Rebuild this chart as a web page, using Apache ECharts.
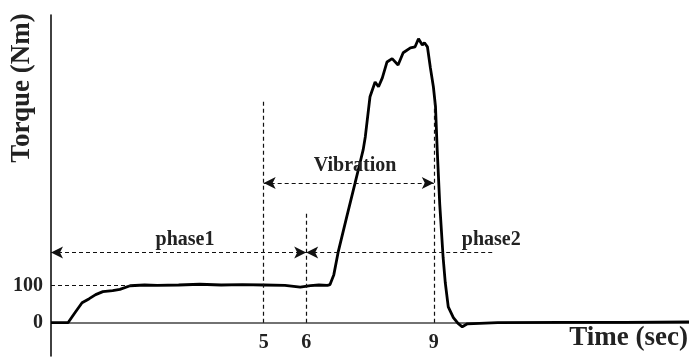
<!DOCTYPE html>
<html>
<head>
<meta charset="utf-8">
<script src="https://cdn.jsdelivr.net/npm/echarts@6/dist/echarts.min.js"></script>
<style>html,body{margin:0;padding:0;background:#fff;}#c{width:689px;height:358px;}</style>
</head>
<body>
<div id="c"></div>
<script>
// ---- data ----
const time = [0, 0.4, 0.55, 0.73, 0.9, 1.05, 1.22, 1.45, 1.62, 1.86, 2.2, 2.5, 3.0, 3.5, 4.0, 4.5, 5.0, 5.5, 5.86, 6.1, 6.3, 6.5, 6.56, 6.65, 6.75, 6.95, 7.15, 7.25, 7.34, 7.39, 7.5, 7.62, 7.7, 7.79, 7.9, 8.02, 8.16, 8.28, 8.45, 8.56, 8.64, 8.73, 8.78, 8.85, 8.92, 8.99, 9.04, 9.08, 9.14, 9.22, 9.27, 9.34, 9.46, 9.57, 9.67, 9.79, 10.5, 12, 13.5, 15];
const torque = [0, 0, 25, 54, 65, 76, 84, 87, 90, 100, 102, 101, 102, 104, 102, 103, 102, 101, 96, 100, 102, 101, 103, 130, 190, 285, 378, 425, 468, 503, 611, 651, 638, 662, 705, 714, 697, 730, 743, 746, 768, 751, 757, 746, 689, 638, 584, 468, 320, 175, 108, 43, 14, -2, -11, -3, 0, 1, 1, 2];
const xTickLabels = [5, 6, 9];
const yTickLabels = [0, 100];
const refLevel = 100;                 // dashed level line
const guideTimes = [5, 6, 9];         // vertical dashed guides
const guideTops = [603, 297, 603];
const arrowLevelPhase = 190;
const arrowLevelVibration = 378;
const phase2End = 10.4;
const annotations = [
  {text: 'phase1', t: 3.15, v: 224},
  {text: 'Vibration', t: 7.15, v: 424},
  {text: 'phase2', t: 10.35, v: 224}
];

const serif = '"Liberation Serif", "Times New Roman", serif';
const dash = {type: [4, 3], color: '#111', width: 1.2};
const arrowSize = [9, 12];

const chart = echarts.init(document.getElementById('c'), null, {renderer: 'canvas'});

const markLines = [];
markLines.push([{coord: [0, refLevel], symbol: 'none'}, {coord: [1.9, refLevel], symbol: 'none'}]);
guideTimes.forEach((t, i) => {
  markLines.push([{coord: [t, 0], symbol: 'none'}, {coord: [t, guideTops[i]], symbol: 'none'}]);
});
markLines.push([{coord: [guideTimes[0], arrowLevelVibration], symbol: 'arrow', symbolSize: arrowSize},
                {coord: [guideTimes[2], arrowLevelVibration], symbol: 'arrow', symbolSize: arrowSize}]);
markLines.push([{coord: [0, arrowLevelPhase], symbol: 'arrow', symbolSize: arrowSize},
                {coord: [guideTimes[1], arrowLevelPhase], symbol: 'arrow', symbolSize: arrowSize}]);
markLines.push([{coord: [guideTimes[1], arrowLevelPhase], symbol: 'arrow', symbolSize: arrowSize},
                {coord: [phase2End, arrowLevelPhase], symbol: 'none'}]);

const option = {
  animation: false,
  backgroundColor: '#fff',
  grid: {left: 51, right: 0, top: 15, bottom: 2, containLabel: false, outerBoundsMode: 'none'},
  xAxis: {
    type: 'value', min: 0, max: 15,
    axisLine: {show: true, onZero: true, lineStyle: {color: '#444', width: 1.6}},
    axisTick: {show: false},
    splitLine: {show: false},
    axisLabel: {
      customValues: xTickLabels, margin: -23,
      fontFamily: serif, fontWeight: 'bold', fontSize: 20, color: '#222'
    }
  },
  yAxis: {
    type: 'value', min: -90, max: 832,
    axisLine: {show: true, onZero: false, lineStyle: {color: '#111', width: 1.6}},
    axisTick: {show: false},
    splitLine: {show: false},
    axisLabel: {
      customValues: yTickLabels, margin: 8,
      fontFamily: serif, fontWeight: 'bold', fontSize: 20, color: '#222'
    }
  },
  graphic: [
    {type: 'text', x: 22, y: 88, rotation: Math.PI / 2,
     style: {text: 'Torque (Nm)', font: 'bold 27px ' + serif, fill: '#222', align: 'center', verticalAlign: 'middle'}},
    {type: 'text', right: 1, top: 325,
     style: {text: 'Time (sec)', font: 'bold 27px ' + serif, fill: '#222'}}
  ],
  series: [{
    type: 'line',
    data: time.map((t, i) => [t, torque[i]]),
    showSymbol: false,
    lineStyle: {color: '#000', width: 2.8},
    z: 3,
    markLine: {
      silent: true,
      symbol: 'none',
      lineStyle: dash,
      label: {show: false},
      data: markLines
    },
    markPoint: {
      silent: true,
      symbol: 'circle', symbolSize: 0,
      label: {show: true, position: 'inside', formatter: '{b}',
              fontFamily: serif, fontWeight: 'bold', fontSize: 20, color: '#222'},
      data: annotations.map(a => ({name: a.text, coord: [a.t, a.v]}))
    }
  }]
};
chart.setOption(option);
</script>
</body>
</html>
